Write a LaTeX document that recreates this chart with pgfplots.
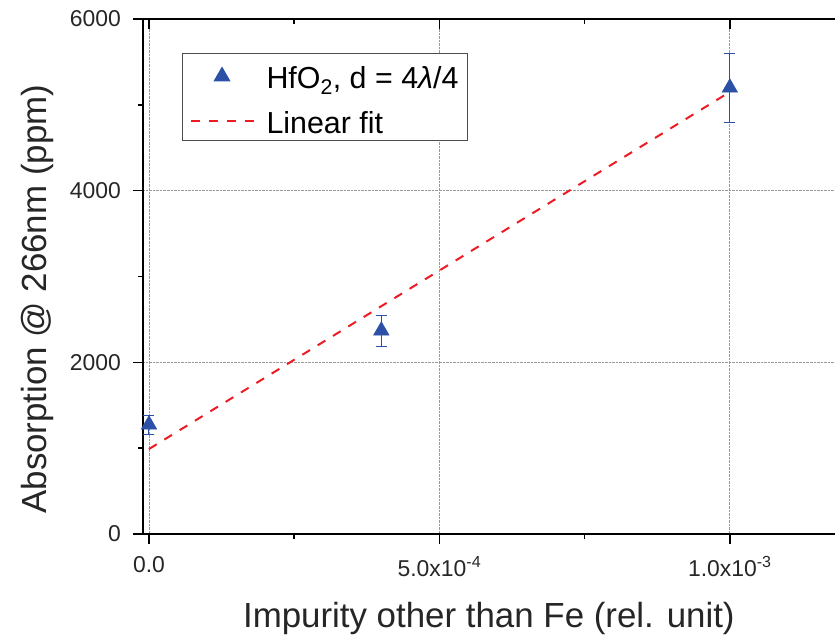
\documentclass[border=0pt]{standalone}
\usepackage{fontspec}
\setmainfont{Liberation Sans}
\usepackage{pgfplots}
\pgfplotsset{compat=1.18}
\definecolor{myblue}{RGB}{43,80,165}
\definecolor{myred}{RGB}{237,28,36}
\begin{document}
\begin{tikzpicture}
\pgfplotsset{
  common/.style={
    scale only axis, width=703bp, height=515bp,
    xmin=-1.03e-5, xmax=1.2e-3, ymin=0, ymax=6000,
    axis line style={line width=1.8bp, black},
    major tick length=10bp, minor tick length=5bp,
    every tick/.style={black, line width=1.5bp},
    every minor tick/.style={black, line width=1.5bp},
    xtick={0,5e-4,1e-3}, minor xtick={2.5e-4,7.5e-4},
    scaled x ticks=false,
  }
}
\begin{axis}[common,
  name=main,
  xticklabels={0.0, 5.0x10\textsuperscript{-4}, 1.0x10\textsuperscript{-3}},
  ytick={0,2000,4000,6000}, minor ytick={1000,3000,5000},
  yticklabels={0,2000,4000,6000},
  xtick pos=bottom, ytick pos=left,
  tick align=outside,
  grid=major,
  major grid style={densely dotted, gray!80, line width=0.8bp},
  tick label style={font=\fontsize{23}{27}\selectfont, text=black!85},
  xticklabel style={anchor=north, inner sep=0pt, yshift=-12bp},
  yticklabel style={anchor=east, inner sep=0pt, xshift=-12bp},
  label style={font=\fontsize{35}{42}\selectfont, text=black!85},
  xlabel={Impurity other than Fe (rel. unit)},
  ylabel={Absorption @ 266nm (ppm)},
  xlabel style={at={(axis description cs:0.492,-0.1825)}, anchor=base},
  ylabel style={at={(axis description cs:-0.1366,0.456)}, anchor=base},
  legend style={at={(axis description cs:0.0555,0.934)}, anchor=north west,
    draw=black!70, line width=1bp, font=\fontsize{30.5}{36}\selectfont,
    inner xsep=7bp, inner ysep=3bp, row sep=9bp, column sep=10bp,
    nodes={inner sep=2bp, text height=30bp, text depth=2bp}},
  legend cell align=left,
  legend image code/.code={\draw[mark repeat=2,mark phase=2,#1] plot coordinates {(0bp,-2bp)(31.5bp,-2bp)(63bp,-2bp)};},
]
\addplot[only marks, mark=triangle*, mark size=9bp, color=myblue,
  error bars/.cd, y dir=both, y explicit,
  error bar style={line width=1bp, myblue},
  error mark options={rotate=90, mark size=5.5bp, line width=1bp, myblue}]
  coordinates {
    (0, 1275) +- (0, 110)
    (4.0e-4, 2370) +- (0, 180)
    (1.0e-3, 5200) +- (0, 400)
  };
\addlegendentry{HfO\textsubscript{2}, d = 4\textit{λ}/4}
\addplot[myred, line width=2bp, dash pattern=on 9bp off 9bp] coordinates {
  (0, 990) (1.0e-3, 5150)
};
\addlegendentry{Linear fit}
\end{axis}
\begin{axis}[common,
  axis x line*=top, hide y axis,
  xticklabels={}, tick align=inside,
]
\end{axis}
\pgfresetboundingbox
\useasboundingbox (-143bp,-104bp) rectangle (692bp,534bp);
\end{tikzpicture}
\end{document}
